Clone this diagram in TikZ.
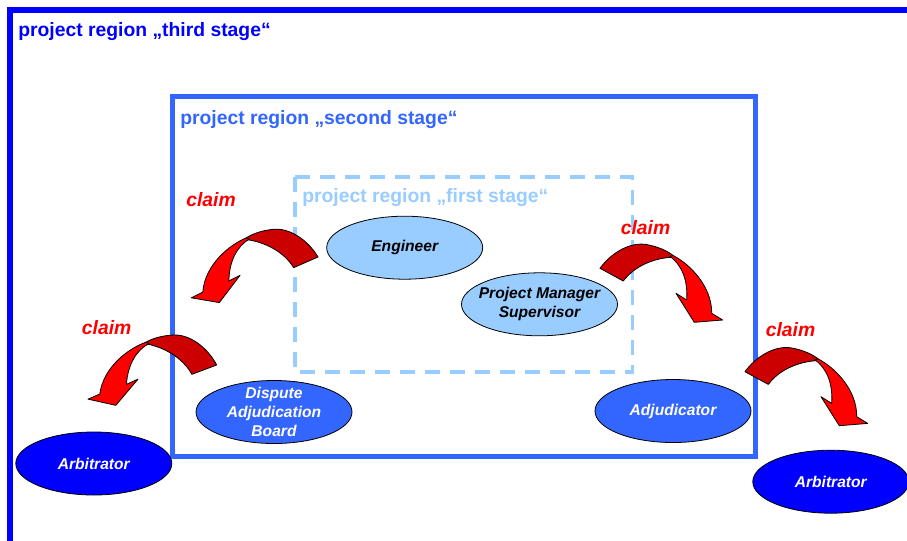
\documentclass[tikz,border=0pt]{standalone}
\usepackage{fontspec}
\setmainfont{Liberation Sans}
\usetikzlibrary{shapes.geometric}
\definecolor{thirdc}{HTML}{0000FF}
\definecolor{secondc}{HTML}{3366FF}
\definecolor{firstc}{HTML}{99CCFF}
\definecolor{claimdark}{HTML}{CC0000}
\definecolor{claimred}{HTML}{FF0000}
\tikzset{
  regiontitle/.style={anchor=base west, inner sep=0pt, font=\fontsize{14.5}{17}\selectfont\bfseries},
  claimlbl/.style={anchor=base, inner sep=0pt, text=claimred, font=\fontsize{14.5}{17}\selectfont\bfseries\itshape},
  role/.style={ellipse, draw=black, line width=0.6pt, minimum width=117pt, minimum height=47.25pt, inner xsep=-25pt, inner ysep=-25pt, align=center, font=\fontsize{11.7}{14.25}\selectfont\bfseries\itshape},
  lightrole/.style={role, fill=firstc, text=black},
  midrole/.style={role, fill=secondc, text=white},
  darkrole/.style={role, fill=thirdc, text=white},
  arrowpart/.style={draw=black, line width=0.6pt, line join=round},
}
\newcommand{\ClaimArrow}[1]{%
  \begin{scope}[#1]
    \filldraw[arrowpart, fill=claimdark] (0,0) .. controls (10,-14) and (28,-26) .. (45,-24)
      .. controls (58,-22) and (68,-17) .. (73.3,-12.7) -- (71,-11)
      .. controls (55,-10) and (35,-3) .. (23.3,12.7) -- cycle;
    \filldraw[arrowpart, fill=claimred] (70,-12) -- (73.3,-12.7)
      .. controls (90,-4) and (112,18) .. (111.7,45) -- (122.7,51.7) -- (94.3,54)
      -- (76,25) -- (86.7,31.7) .. controls (88,12) and (82,-3) .. (70,-12) -- cycle;
  \end{scope}}
\begin{document}
\begin{tikzpicture}[x=0.75pt, y=-0.75pt]
  \useasboundingbox[fill=white] (0,0) rectangle (907,540);
  % third stage frame
  \draw[thirdc, line width=4.5pt] (9.5,560) -- (9.5,9.5) -- (930,9.5);
  \node[regiontitle, text=thirdc] (t3) at (18,36) {project region „third stage“};
  % second stage frame
  \draw[secondc, line width=3.75pt] (172,96) rectangle (755,456);
  \node[regiontitle, text=secondc] (t2) at (180,124) {project region „second stage“};
  % first stage frame
  \draw[firstc, line width=2.6pt, dash pattern=on 11.25pt off 7.5pt] (295,177) rectangle (632.5,372);
  \node[regiontitle, text=firstc] (t1) at (302,202) {project region „first stage“};
  % roles
  \node[lightrole] (eng) at (404.7,247.7) {Engineer};
  \node[lightrole] (pm) at (539.5,304.3) {Project Manager\\Supervisor};
  \node[midrole] (dab) at (274,412) {Dispute\\Adjudication\\Board};
  \node[midrole] (adj) at (673,411) {Adjudicator};
  \node[darkrole] (arbl) at (93.8,463.5) {Arbitrator};
  \node[darkrole] (arbr) at (830.8,481.7) {Arbitrator};
  % claim arrows
  \ClaimArrow{shift={(318,257)}, xscale=-1, rotate=5}
  \ClaimArrow{shift={(600,268.3)}}
  \ClaimArrow{shift={(216.7,365)}, xscale=-1, rotate=8}
  \ClaimArrow{shift={(745,371.7)}}
  % claim labels
  \node[claimlbl] (c1) at (211,206.5) {claim};
  \node[claimlbl] (c2) at (645.5,234) {claim};
  \node[claimlbl] (c3) at (106.7,334) {claim};
  \node[claimlbl] (c4) at (790.5,336.5) {claim};
\end{tikzpicture}
\end{document}
